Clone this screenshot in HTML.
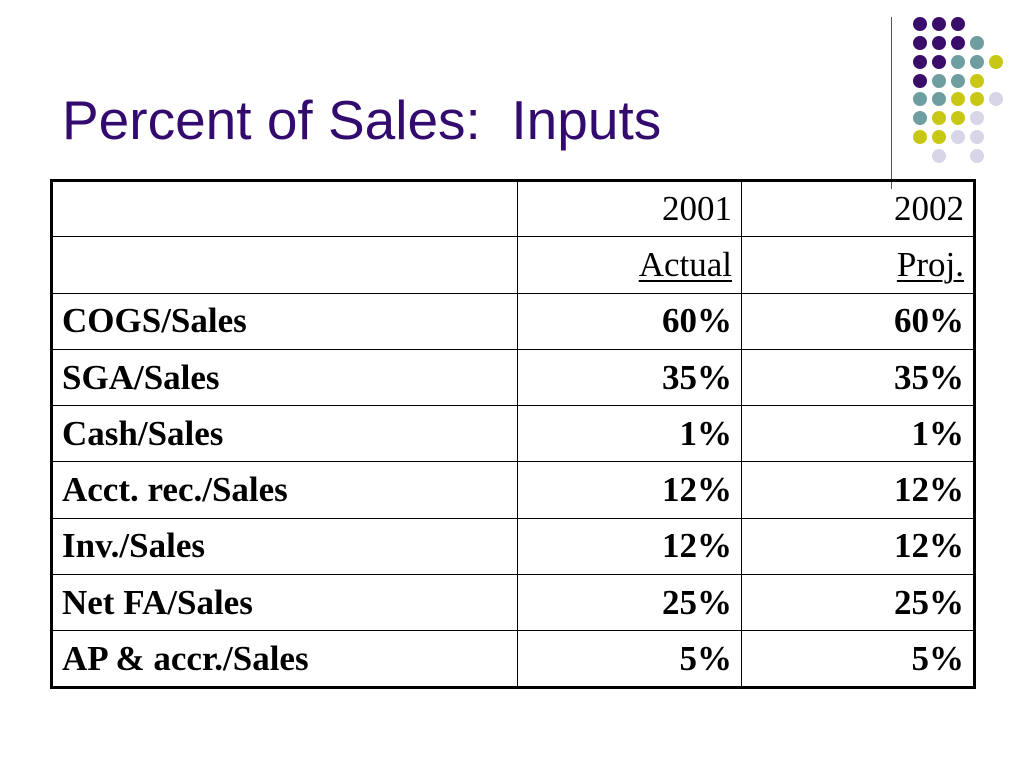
<!DOCTYPE html>
<html><head><meta charset="utf-8"><style>
body{margin:0;width:1024px;height:768px;background:#fff;position:relative;overflow:hidden}
#title{position:absolute;left:62px;top:89px;font:55px "Liberation Sans",sans-serif;color:#330a6e;margin:0;font-weight:normal;line-height:1.15}
#vline{position:absolute;left:891px;top:17px;width:1px;height:172px;background:#555}
table{position:absolute;left:50px;top:179px;border-collapse:collapse;border:3px solid #000;font:bold 35px "Liberation Serif",serif}
td{border:1px solid #000;height:56.3px;padding:0 9px;box-sizing:border-box;white-space:nowrap}
td.n{text-align:right}
.d{position:absolute;width:14px;height:14px;border-radius:50%}
u{text-decoration-thickness:2px;text-underline-offset:4px}
</style></head><body>
<h1 id="title">Percent of Sales:&nbsp; Inputs</h1>
<div id="vline"></div>
<div id="dots"></div>
<table>
<colgroup><col style="width:466px"><col style="width:224px"><col style="width:233px"></colgroup>
<tr><td></td><td class="n" style="font-weight:normal">2001</td><td class="n" style="font-weight:normal">2002</td></tr>
<tr><td></td><td class="n" style="font-weight:normal"><u>Actual</u></td><td class="n" style="font-weight:normal"><u>Proj.</u></td></tr>
<tr><td>COGS/Sales</td><td class="n">60%</td><td class="n">60%</td></tr>
<tr><td>SGA/Sales</td><td class="n">35%</td><td class="n">35%</td></tr>
<tr><td>Cash/Sales</td><td class="n">1%</td><td class="n">1%</td></tr>
<tr><td>Acct. rec./Sales</td><td class="n">12%</td><td class="n">12%</td></tr>
<tr><td>Inv./Sales</td><td class="n">12%</td><td class="n">12%</td></tr>
<tr><td>Net FA/Sales</td><td class="n">25%</td><td class="n">25%</td></tr>
<tr><td>AP &amp; accr./Sales</td><td class="n">5%</td><td class="n">5%</td></tr>
</table>
<script>
const pattern=["PPP","PPPT","PPTTY","PTTY","TTYYL","TYYL","YYLL"," L L"];
const colors={P:"#3b0d6b",T:"#6e9e9f",Y:"#c8c814",L:"#d6d6e8"};
const xs=[920,939,958,977,996],ys=[24,43,62,81,99,118,137,156];
const host=document.getElementById('dots');
pattern.forEach((r,i)=>{[...r].forEach((c,j)=>{if(c===' ')return;
const d=document.createElement('div');d.className='d';


d.style.left=(xs[j]-7)+'px';d.style.top=(ys[i]-7)+'px';d.style.background=colors[c];host.appendChild(d);});});
</script>
</body></html>
